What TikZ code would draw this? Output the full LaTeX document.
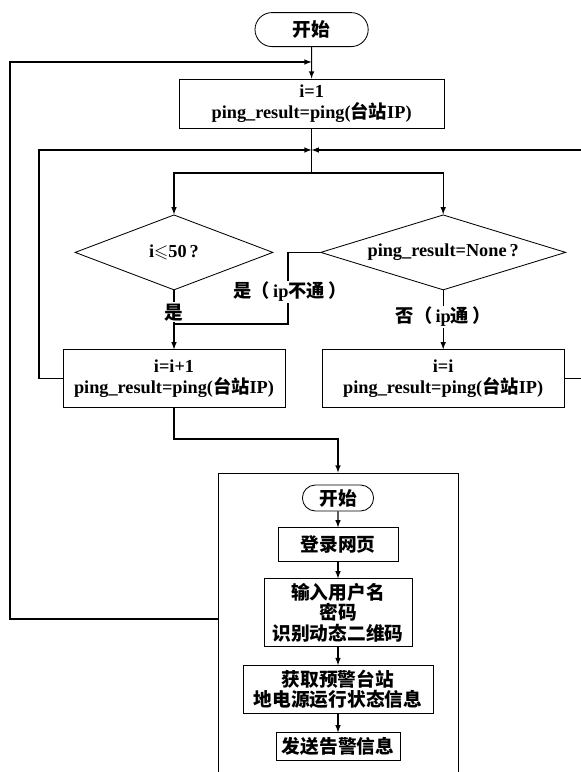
\documentclass[tikz,border=0pt]{standalone}
\usepackage{fontspec}
\usepackage{amssymb}
\setmainfont{Liberation Serif}
\newfontfamily\cjk{Noto Sans CJK SC}
\usetikzlibrary{positioning}
\usetikzlibrary{shapes.misc, shapes.geometric}

\tikzset{
  txt/.style={font=\fontsize{13}{14.5}\selectfont\bfseries, align=center},
  zh/.style={font=\fontsize{13.3}{14.5}\selectfont\bfseries\cjk},
  proc/.style={txt, rectangle, draw=black, line width=0.6pt, inner sep=0pt},
  term/.style={txt, rounded rectangle, draw=black, line width=0.6pt, inner sep=0pt},
  cond/.style={txt, diamond, draw=black, line width=0.6pt, inner sep=0pt, aspect=2.6},
  flow/.style={line width=0.8pt, ->, >=latex},
  link/.style={line width=0.8pt},
  lbl/.style={txt, fill=white, inner sep=1pt}
}

\begin{document}
\begin{tikzpicture}
\useasboundingbox (0,0) rectangle (14.525,19.3);
% ping loop
\node[term, zh, minimum width=2.83cm, minimum height=0.85cm] (start) at (7.79,18.56) {开始};
\node[proc, minimum width=6.63cm, minimum height=1.23cm] (init) at (7.79,16.71) {i=1\\ping\_result=ping({\cjk 台站}IP)};
\node[cond, minimum width=4.95cm, minimum height=1.88cm] (chkI) at (4.35,12.99) {i$\leqslant$50\,?};
\node[cond, minimum width=6.13cm, minimum height=1.88cm] (chkP) at (11.08,12.99) {ping\_result=None\,?};
\node[proc, minimum width=5.55cm, minimum height=1.45cm] (incr) at (4.35,9.83) {i=i+1\\ping\_result=ping({\cjk 台站}IP)};
\node[proc, minimum width=6.05cm, minimum height=1.45cm] (keep) at (11.08,9.83) {i=i\\ping\_result=ping({\cjk 台站}IP)};

% web part
\node[draw=black, line width=0.6pt, minimum width=6cm, minimum height=7.9cm, inner sep=0pt] (web) at (8.45,3.525) {};
\node[term, zh, minimum width=1.78cm, minimum height=0.65cm] (s2) at (8.45,6.85) {开始};
\node[proc, zh, minimum width=3.0cm, minimum height=0.83cm] (login) at (8.45,5.69) {登录网页};
\node[proc, zh, minimum width=3.7cm, minimum height=1.7cm] (input) at (8.45,3.98) {输入用户名\\密码\\识别动态二维码};
\node[proc, zh, minimum width=4.75cm, minimum height=1.2cm] (fetch) at (8.45,2.06) {获取预警台站\\地电源运行状态信息};
\node[proc, zh, minimum width=3.1cm, minimum height=0.68cm] (send) at (8.45,0.64) {发送告警信息};

\coordinate (top) at (7.79,17.75);
\coordinate (join) at (7.79,15.55);
\coordinate (split) at (7.79,14.975);
\coordinate (lpath) at (0.975,15.55);
\coordinate (rpath) at (14.6,15.55);
\coordinate (yesP) at (7.2,11.2);
\coordinate (drop) at (4.35,8.325);
\coordinate (ret) at (5.45,3.825);
\coordinate (far) at (0.25,17.75);

\draw[flow] (start) -- (init);
\draw[link] (init) -- (split);
\draw[flow] (split) -| (chkI);
\draw[flow] (split) -| (chkP);
\draw[flow] (chkI) -- node[lbl, zh, pos=0.37] (yesI) {是} (incr);
\draw[link] (chkP.west) -| (yesP) -- (yesP -| incr.north);
\node[lbl] (yesPlbl) at (7.25,12.0) {{\cjk 是（}\,ip{\cjk 不通}\,{\cjk ）}};
\draw[flow] (chkP) -- node[lbl, pos=0.45] (noP) {{\cjk 否（}\,ip{\cjk 通}\,{\cjk ）}} (keep);
\draw[flow] (incr.west) -| (lpath) -- (join);
\draw[flow] (keep.east) -| (rpath) -- (join);
\draw[flow] (incr) -- (drop) -| (web);
\draw[flow] (ret) -| (far) -- (top);

\draw[flow] (s2) -- (login);
\draw[flow] (login) -- (input);
\draw[flow] (input) -- (fetch);
\draw[flow] (fetch) -- (send);
\end{tikzpicture}
\end{document}
